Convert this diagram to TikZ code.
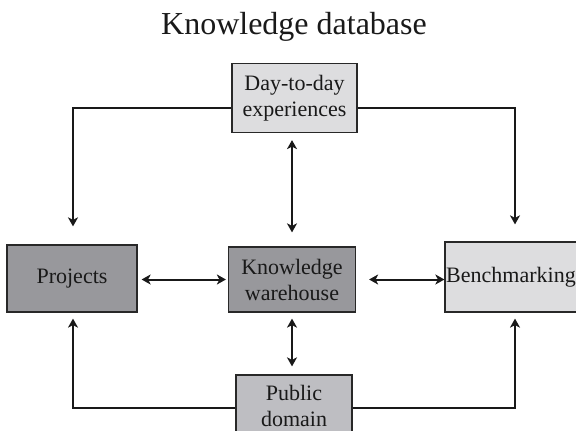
\documentclass[tikz,border=0pt]{standalone}
\usepackage{fontspec}
\setmainfont{Liberation Serif}
\usetikzlibrary{arrows.meta}
\definecolor{lightbox}{RGB}{221,221,223}
\definecolor{darkbox}{RGB}{152,152,156}
\definecolor{midbox}{RGB}{190,190,194}
\definecolor{edge}{RGB}{40,40,40}
\begin{document}
\begin{tikzpicture}[x=1pt,y=-1pt,
  box/.style={draw=edge,line width=1.2pt,align=center,inner sep=0pt,
    font=\fontsize{22}{26}\selectfont,text=black!90},
  tip/.tip={Stealth[length=9pt,width=10pt,inset=2.5pt]},
  link/.style={line width=2pt,draw=black!90,-tip},
  twoway/.style={line width=2pt,draw=black!90,tip-tip}]
\useasboundingbox (0,0) rectangle (576,431);

\node[font=\fontsize{32}{36}\selectfont,text=black!90] (title) at (294,27) {Knowledge database};

\node[box,fill=lightbox,minimum width=125pt,minimum height=69pt] (day) at (294.5,98) {Day-to-day\\experiences};
\node[box,fill=darkbox,minimum width=130pt,minimum height=67pt] (proj) at (72,278.5) {Projects};
\node[box,fill=darkbox,minimum width=127pt,minimum height=65pt] (ware) at (292,279.5) {Knowledge\\warehouse};
\node[box,fill=lightbox,minimum width=132pt,minimum height=70pt,text width=132pt] (bench) at (511,277) {Benchmarking};
\node[box,fill=midbox,minimum width=116pt,minimum height=66pt] (pub) at (294,408)
  {\raisebox{4pt}{\begin{tabular}{@{}c@{}}Public\\domain\end{tabular}}};

% corners of the outer loops
\coordinate (tl) at (73,108);
\coordinate (tr) at (515,108);
\coordinate (bl) at (73,408);
\coordinate (br) at (515,408);

% two-way links around the warehouse
\draw[twoway,shorten <=4pt,shorten >=2pt] (proj.east |- ware.west) -- (ware.west);
\draw[twoway,shorten <=13pt] (ware.east) -- (bench.west |- ware.east);
\draw[twoway,shorten <=7pt,shorten >=14pt] (day.south -| ware.north) -- (ware.north);
\draw[twoway,shorten <=6pt,shorten >=8pt] (ware.south) -- (pub.north -| ware.south);

% outer loops
\draw[link,shorten >=18pt] (day.west |- tl) -- (tl) -- (tl |- proj.north);
\draw[link,shorten >=17pt] (day.east |- tr) -- (tr) -- (tr |- bench.north);
\draw[link,shorten >=6pt] (pub.west) -- (bl) -- (bl |- proj.south);
\draw[link,shorten >=6pt] (pub.east) -- (br) -- (br |- bench.south);
\end{tikzpicture}
\end{document}
